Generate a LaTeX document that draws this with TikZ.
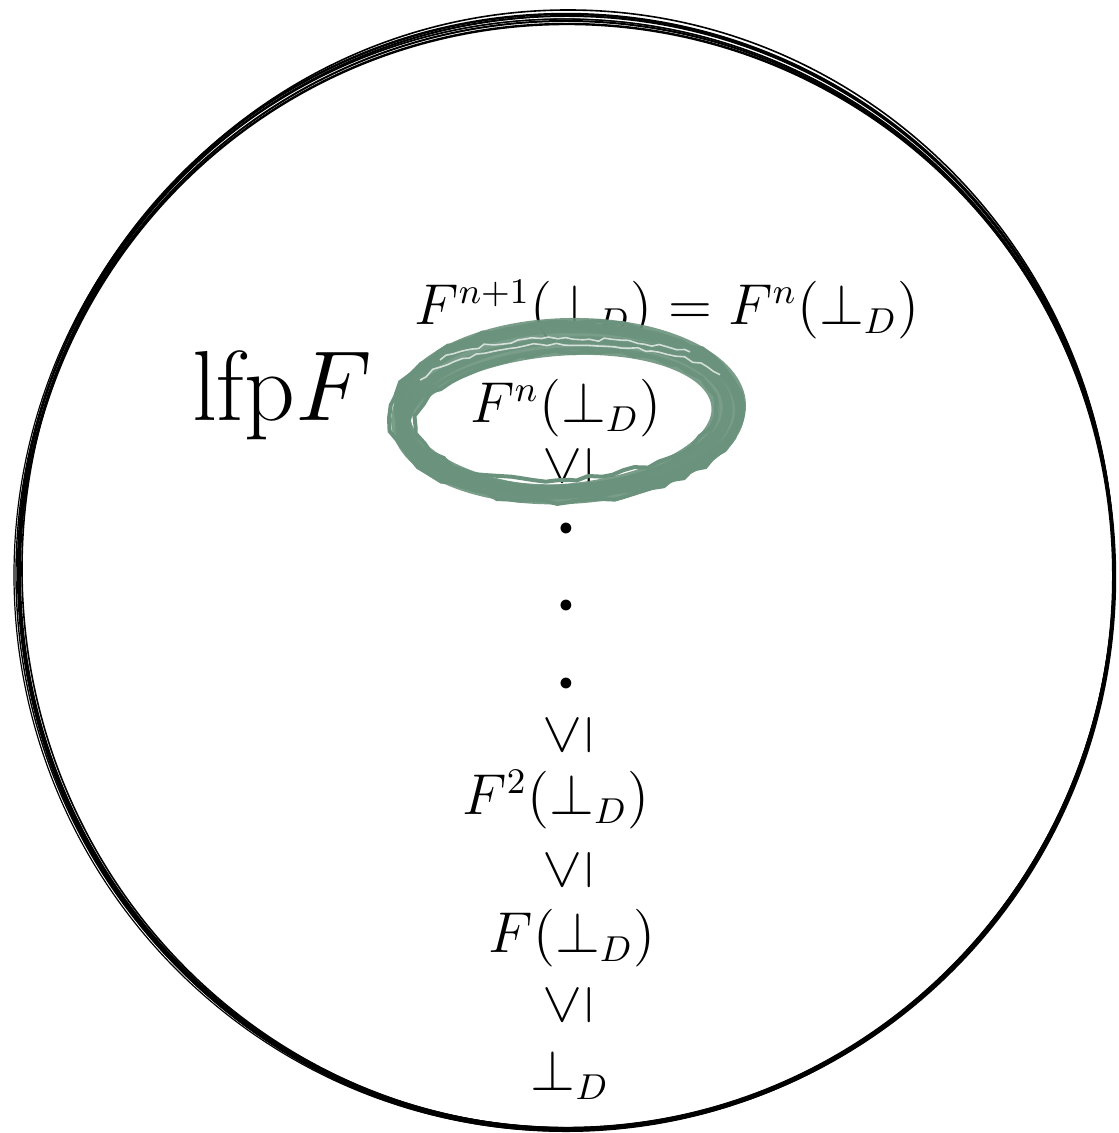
\documentclass[tikz,border=0pt]{standalone}
\usepackage{amsmath}
\usetikzlibrary{decorations.pathmorphing}
\definecolor{brush}{RGB}{106,146,124}
\begin{document}
\begin{tikzpicture}[x=0.25pt,y=-0.25pt,
  lbl/.style={inner sep=0pt, font=\fontsize{13.5}{16}\selectfont},
  rel/.style={inner sep=0pt, font=\fontsize{13.5}{16}\selectfont, rotate=90},
  dotnode/.style={inner sep=0pt, font=\fontsize{6.5}{7}\selectfont},
  big/.style={inner sep=0pt, font=\fontsize{31}{34}\selectfont},
  sketch/.style={draw=black, line width=0.35pt},
  brushstroke/.style={draw=brush, opacity=0.9},
  roughstroke/.style={draw=brush, decorate, decoration={random steps, segment length=3pt, amplitude=0.6pt}},
  streak/.style={draw=white, line width=0.4pt, opacity=0.7, decorate, decoration={random steps, segment length=2pt, amplitude=0.5pt}}]
\useasboundingbox (0,0) rectangle (1119,1133);
% sketchy outer circle
\foreach \dx/\dy/\rx/\ry/\w in {0/0/548/557/0.6, 2/-2/546/559/0.4, -1/3/549/555/0.35, 1/1/547/556/0.5, -2/4/550/556/0.3, 1/6/548/553/0.6, 0/5/547/555/0.5}
  \draw[sketch, line width=\w pt] (566+\dx,571+\dy) ellipse [x radius=\rx, y radius=\ry];
% texts
\node[lbl] (top) at (667,310) {$F^{n+1}(\bot_D) = F^n(\bot_D)$};
\node[big] (lfp) at (282,396) {$\mathrm{lfp} F$};
\node[lbl] (fn) at (566,408) {$F^n(\bot_D)$};
\node[rel] (r1) at (568,466) {$\leq$};
\node[dotnode] (d1) at (566,529) {$\bullet$};
\node[dotnode] (d2) at (566,606) {$\bullet$};
\node[dotnode] (d3) at (566,684) {$\bullet$};
\node[rel] (r2) at (568,735) {$\leq$};
\node[lbl] (f2) at (556,800) {$F^2(\bot_D)$};
\node[rel] (r3) at (568,870) {$\leq$};
\node[lbl] (f1) at (572,938) {$F(\bot_D)$};
\node[rel] (r4) at (568,1005) {$\leq$};
\node[lbl] (bot) at (570,1075) {$\bot_D$};
% green brush ellipse around F^n
\foreach \cx/\cy/\rx/\ry/\rot/\w in {567/414/166/80/3/5.0, 564/418/162/74/4/3.5, 570/408/172/86/1/2.0, 560/420/156/68/5/2.0, 572/410/168/82/0/2.5}
  \draw[brushstroke, line width=\w pt] (\cx,\cy) ellipse [x radius=\rx, y radius=\ry, rotate=\rot];
\foreach \cx/\cy/\rx/\ry/\rot/\w in {566/412/176/90/2/1.0, 566/416/150/64/4/1.0, 568/410/170/84/-1/1.2}
  \draw[roughstroke, line width=\w pt] (\cx,\cy) ellipse [x radius=\rx, y radius=\ry, rotate=\rot];
% dry-brush texture on the upper part
\draw[streak] (420,380) .. controls (470,335) and (650,330) .. (720,375);
\draw[streak] (440,360) .. controls (500,330) and (620,335) .. (690,352);
\end{tikzpicture}
\end{document}
